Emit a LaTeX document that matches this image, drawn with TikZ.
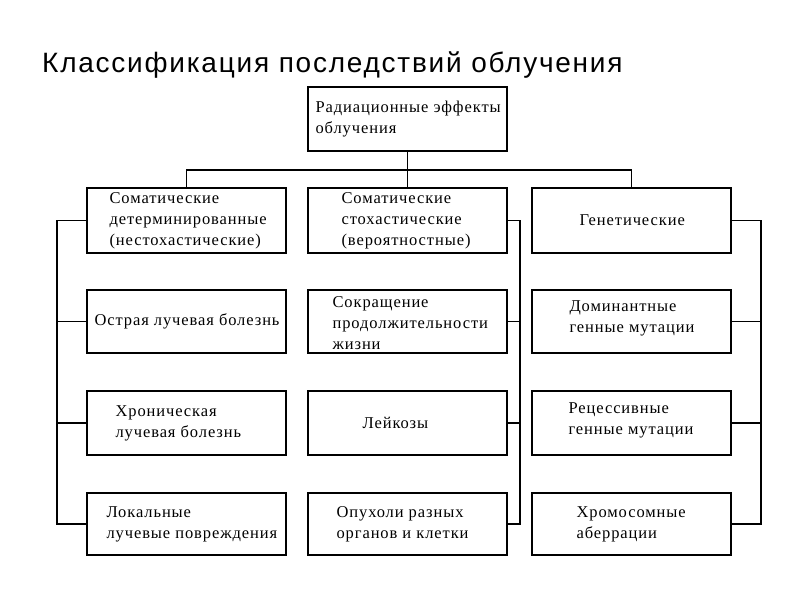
\documentclass[tikz,border=0pt]{standalone}
\usepackage{fontspec}
\setmainfont{Liberation Serif}
\newfontfamily\titlefamily[LetterSpace=6.3]{Liberation Sans}
\newfontfamily\boxfamily[LetterSpace=5.5]{Liberation Serif}
\newcommand{\boxfont}{\boxfamily\fontsize{16.5}{21}\selectfont}
\begin{document}
\begin{tikzpicture}[x=1pt,y=-1pt,
  box/.style={draw, line width=1.3pt, minimum width=199pt, minimum height=64pt, inner sep=0pt},
  txt/.style={anchor=west, align=left, font=\boxfont, inner sep=0pt},
  wire/.style={line width=1.3pt}]
\useasboundingbox (0,0) rectangle (800,600);
\node[anchor=base west, font=\titlefamily\fontsize{28}{32}\selectfont, inner sep=0pt] (title) at (42,72) {Классификация последствий облучения};
% boxes
\node[box] (top) at (407.5,119) {};
\node[box, minimum height=65pt] (l1) at (186.5,220.5) {};
\node[box, minimum height=63pt] (l2) at (186.5,321.5) {};
\node[box] (l3) at (186.5,423) {};
\node[box, minimum height=62pt] (l4) at (186.5,524) {};
\node[box, minimum height=65pt] (m1) at (407.5,220.5) {};
\node[box, minimum height=63pt] (m2) at (407.5,321.5) {};
\node[box] (m3) at (407.5,423) {};
\node[box, minimum height=62pt] (m4) at (407.5,524) {};
\node[box, minimum height=65pt] (r1) at (631.5,220.5) {};
\node[box, minimum height=63pt] (r2) at (631.5,321.5) {};
\node[box] (r3) at (631.5,423) {};
\node[box, minimum height=62pt] (r4) at (631.5,524) {};
% texts
\node[txt, xshift=8pt] (ttop) at (top.west) {Радиационные эффекты\\облучения};
\node[txt, xshift=23pt] (tl1) at (l1.west) {Соматические\\детерминированные\\(нестохастические)};
\node[txt, xshift=8pt] (tl2) at (l2.west) {Острая лучевая болезнь};
\node[txt, xshift=29pt] (tl3) at (l3.west) {Хроническая\\лучевая болезнь};
\node[txt, xshift=20pt] (tl4) at (l4.west) {Локальные\\лучевые повреждения};
\node[txt, xshift=34pt] (tm1) at (m1.west) {Соматические\\стохастические\\(вероятностные)};
\node[txt, xshift=25pt, yshift=-1.5pt] (tm2) at (m2.west) {Сокращение\\продолжительности\\жизни};
\node[txt, xshift=55pt] (tm3) at (m3.west) {Лейкозы};
\node[txt, xshift=29pt] (tm4) at (m4.west) {Опухоли разных\\органов и клетки};
\node[txt, xshift=48pt] (tr1) at (r1.west) {Генетические};
\node[txt, xshift=38pt, yshift=3pt] (tr2) at (r2.west) {Доминантные\\генные мутации};
\node[txt, xshift=37pt, yshift=3pt] (tr3) at (r3.west) {Рецессивные\\генные мутации};
\node[txt, xshift=45pt] (tr4) at (r4.west) {Хромосомные\\аберрации};
% connectors
\coordinate (hub) at (407.5,170);
\coordinate (lb) at (57,0);
\coordinate (mb) at (520,0);
\coordinate (rb) at (761,0);
\draw[wire] (top.south) -- (m1.north);
\draw[wire] (l1.north) -- (l1.north |- hub) -- (r1.north |- hub) -- (r1.north);
\draw[wire] (l1.west) -- (l1.west -| lb) -- (l4.west -| lb) -- (l4.west);
\draw[wire] (l2.west) -- (l2.west -| lb);
\draw[wire] (l3.west) -- (l3.west -| lb);
\draw[wire] (m1.east) -- (m1.east -| mb) -- (m4.east -| mb) -- (m4.east);
\draw[wire] (m2.east) -- (m2.east -| mb);
\draw[wire] (m3.east) -- (m3.east -| mb);
\draw[wire] (r1.east) -- (r1.east -| rb) -- (r4.east -| rb) -- (r4.east);
\draw[wire] (r2.east) -- (r2.east -| rb);
\draw[wire] (r3.east) -- (r3.east -| rb);
\end{tikzpicture}
\end{document}
